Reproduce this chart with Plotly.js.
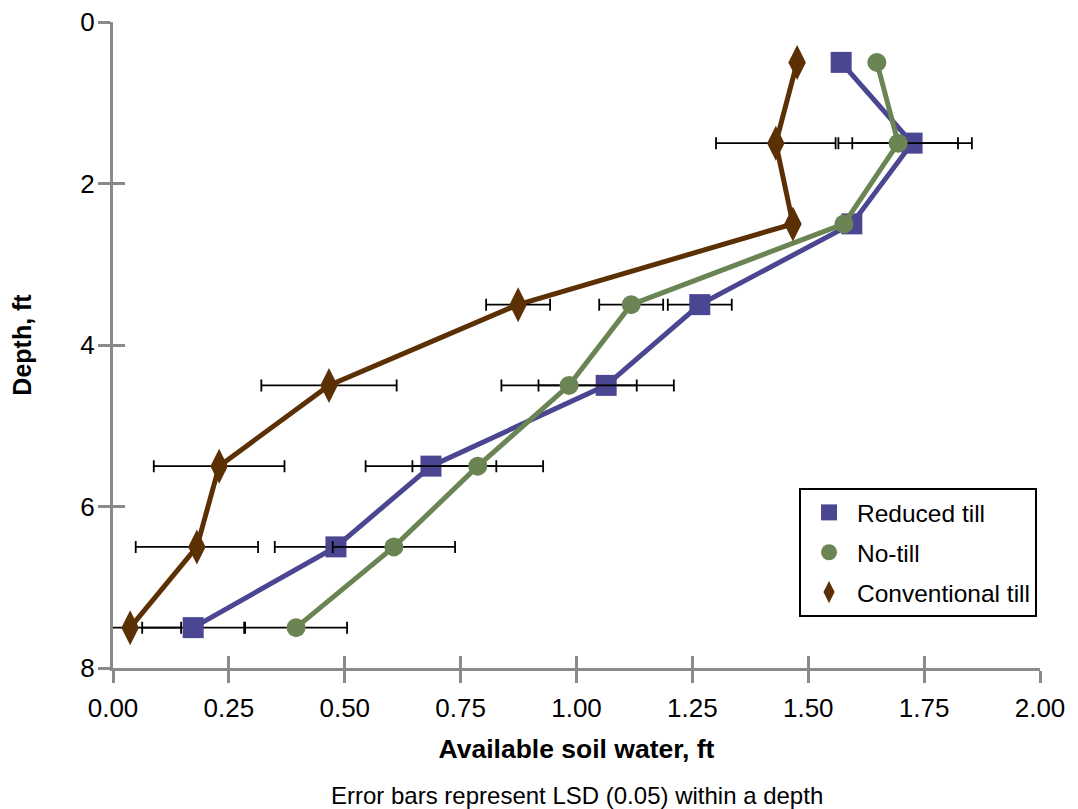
<!DOCTYPE html>
<html>
<head>
<meta charset="utf-8">
<script src="https://cdn.plot.ly/plotly-3.0.1.min.js"></script>
<style>html,body{margin:0;padding:0;background:#fff;}#chart{width:1078px;height:809px;}</style>
</head>
<body>
<div id="chart"></div>
<script>
// Depth (ft) of each sampled layer
const depths = [0.5, 1.5, 2.5, 3.5, 4.5, 5.5, 6.5, 7.5];
// Available soil water (ft) by tillage system
const reducedTill = [1.571, 1.724, 1.594, 1.266, 1.064, 0.686, 0.481, 0.173];
const noTill = [1.648, 1.694, 1.577, 1.118, 0.984, 0.787, 0.606, 0.395];
const conventionalTill = [1.476, 1.430, 1.467, 0.874, 0.466, 0.229, 0.181, 0.037];
// LSD (0.05) within each depth (NaN = no bar shown)
const lsd = [NaN, 0.258, NaN, 0.138, 0.292, 0.282, 0.264, 0.220];
const xTicks = [0, 0.25, 0.5, 0.75, 1.0, 1.25, 1.5, 1.75, 2.0];
const yTicks = [0, 2, 4, 6, 8];

const seriesNames = ['Reduced till', 'No-till', 'Conventional till'];
const seriesValues = [reducedTill, noTill, conventionalTill];
const seriesColors = ['#4a4691', '#6a8453', '#5c3005'];
const seriesSymbols = ['square', 'circle', 'diamond-tall'];
const seriesSizes = [21, 19, 25];

const FONT = 'Liberation Sans, Arial, Helvetica, sans-serif';
const halfLsd = lsd.map(v => v / 2);

const traces = [];
seriesNames.forEach((name, i) => {
  traces.push({
    type: 'scatter', mode: 'lines', x: seriesValues[i], y: depths,
    line: {color: seriesColors[i], width: 5}, showlegend: false,
    hoverinfo: 'skip', cliponaxis: false
  });
  traces.push({
    type: 'scatter', mode: 'markers', name: name, x: seriesValues[i], y: depths,
    legendgroup: 'g' + i,
    marker: {color: seriesColors[i], symbol: seriesSymbols[i], size: seriesSizes[i], line: {width: 0}},
    error_x: {type: 'data', array: halfLsd, symmetric: true, color: '#000', thickness: 1.8, width: 6},
    cliponaxis: false
  });
});
// empty helper trace so the overlaid tick axes (inner half of the crossing ticks) are drawn
traces.push({type: 'scatter', mode: 'markers', x: [], y: [], xaxis: 'x2', yaxis: 'y2',
  showlegend: false, hoverinfo: 'skip'});

const tickCol = '#8a8a8a';
const axisCommon = {
  showgrid: false, zeroline: false, showline: true, linecolor: tickCol, linewidth: 3,
  ticks: 'outside', ticklen: 12, tickwidth: 3, tickcolor: tickCol,
  tickfont: {family: FONT, size: 26, color: '#000'}
};

const layout = {
  width: 1078, height: 809,
  margin: {l: 113, r: 38, t: 22, b: 141},
  paper_bgcolor: '#fff', plot_bgcolor: '#fff',
  font: {family: FONT, color: '#000'},
  xaxis: Object.assign({}, axisCommon, {
    range: [0, 2], tickvals: xTicks, tickformat: '.2f', ticklabelstandoff: 3,
    title: {text: '<b>Available soil water, ft</b>', font: {family: FONT, size: 26.5, color: '#000'}, standoff: 18}
  }),
  yaxis: Object.assign({}, axisCommon, {
    range: [8, 0], tickvals: yTicks, ticklabelstandoff: -2,
    title: {text: '<b>Depth, ft</b>', font: {family: FONT, size: 25, color: '#000'}, standoff: 42}
  }),
  xaxis2: {overlaying: 'x', anchor: 'y2', side: 'bottom', range: [0, 2], tickvals: xTicks,
    showticklabels: false, showgrid: false, zeroline: false, showline: false,
    ticks: 'inside', ticklen: 12, tickwidth: 3, tickcolor: tickCol},
  yaxis2: {overlaying: 'y', anchor: 'x2', side: 'left', range: [8, 0], tickvals: yTicks,
    showticklabels: false, showgrid: false, zeroline: false, showline: false,
    ticks: 'inside', ticklen: 12, tickwidth: 3, tickcolor: tickCol},
  legend: {
    x: 0.9968, xanchor: 'right', y: 0.079, yanchor: 'bottom',
    bordercolor: '#000', borderwidth: 2, bgcolor: '#fff',
    font: {family: FONT, size: 24.5, color: '#000'},
    tracegroupgap: 5, itemwidth: 46, traceorder: 'grouped'
  },
  annotations: [{
    text: 'Error bars represent LSD (0.05) within a depth', xref: 'paper', yref: 'paper',
    x: 0.5, y: -0.198, xanchor: 'center', yanchor: 'middle', showarrow: false,
    font: {family: FONT, size: 24, color: '#000'}
  }],
  showlegend: true
};

Plotly.newPlot('chart', traces, layout, {displayModeBar: false, staticPlot: true});
</script>
</body>
</html>
